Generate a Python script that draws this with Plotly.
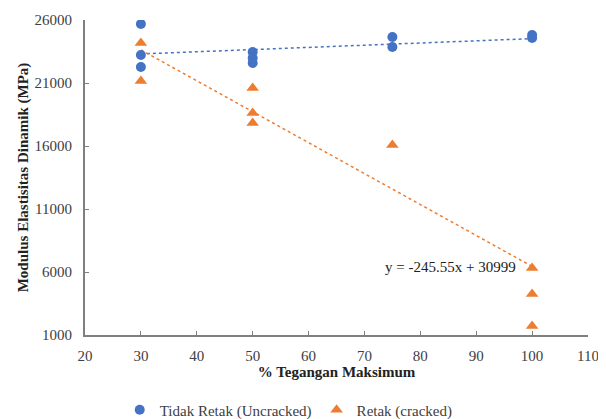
import numpy as np
import plotly.graph_objects as go

# Data
uncracked_x = [30, 30, 30, 50, 50, 50, 75, 75, 100, 100]
uncracked_y = [25680, 23220, 22270, 23460, 22980, 22590, 24650, 23860, 24810, 24570]

cracked_x = [30, 30, 50, 50, 50, 75, 100, 100, 100]
cracked_y = [24180, 21160, 20600, 18620, 17830, 16080, 6320, 4250, 1710]

# Trendline equation shown on chart (cracked)
cracked_slope = -245.55
cracked_intercept = 30999
trend_x = [30, 100]

x_ticks = [20, 30, 40, 50, 60, 70, 80, 90, 100, 110]
y_ticks = [1000, 6000, 11000, 16000, 21000, 26000]

blue = "#4472C4"
orange = "#ED7D31"
font_family = "Liberation Serif, Times New Roman, serif"
text_color = "#404040"

# Linear fit for uncracked series
b_slope, b_int = np.polyfit(uncracked_x, uncracked_y, 1)

fig = go.Figure()

fig.add_trace(go.Scatter(
    x=trend_x, y=[b_slope * x + b_int for x in trend_x],
    mode="lines", line=dict(color=blue, width=1.5, dash="dot"),
    showlegend=False, hoverinfo="skip"))
fig.add_trace(go.Scatter(
    x=trend_x, y=[cracked_slope * x + cracked_intercept for x in trend_x],
    mode="lines", line=dict(color=orange, width=1.5, dash="dot"),
    showlegend=False, hoverinfo="skip"))

fig.add_trace(go.Scatter(
    x=uncracked_x, y=uncracked_y, mode="markers",
    name="Tidak Retak (Uncracked)",
    marker=dict(symbol="circle", size=10, color=blue)))
fig.add_trace(go.Scatter(
    x=cracked_x, y=cracked_y, mode="markers",
    name="Retak (cracked)",
    marker=dict(symbol="triangle-up", size=11, color=orange)))

fig.add_annotation(
    x=97.5, y=6400, xref="x", yref="y",
    text=f"y = {cracked_slope}x + {cracked_intercept}",
    showarrow=False, xanchor="right", yanchor="middle",
    font=dict(family=font_family, size=15, color="#222222"))

axis_common = dict(
    showline=True, linecolor="#7f7f7f", linewidth=2,
    ticks="inside", ticklen=4, tickcolor="#7f7f7f", tickwidth=1,
    showgrid=False, zeroline=False, automargin=False,
    tickfont=dict(family=font_family, size=15, color=text_color),
)

fig.update_xaxes(
    range=[20, 110], tickvals=x_ticks, ticklabelstandoff=6,
    title=dict(text="<b>% Tegangan Maksimum</b>",
               font=dict(family=font_family, size=15, color="#222222"),
               standoff=0),
    **axis_common)
fig.update_yaxes(
    range=[1000, 26000], tickvals=y_ticks, tickformat="d",
    ticklabelstandoff=8,
    title=dict(text="<b>Modulus Elastisitas Dinamik (MPa)</b>",
               font=dict(family=font_family, size=15, color="#222222"),
               standoff=2),
    **axis_common)

# The page body has an 8px margin, so the figure is drawn 8px smaller
# and offset to fill the 606x419 window.
fig.update_layout(
    width=598, height=411,
    margin=dict(l=77, r=18, t=12, b=84, autoexpand=False),
    plot_bgcolor="white", paper_bgcolor="white",
    font=dict(family=font_family, size=15, color=text_color),
    legend=dict(orientation="h", x=0.405, xanchor="center",
                y=-0.238, yanchor="middle",
                font=dict(family=font_family, size=15, color=text_color),
                itemwidth=30, tracegroupgap=0),
)

fig.write_html("out.html")
